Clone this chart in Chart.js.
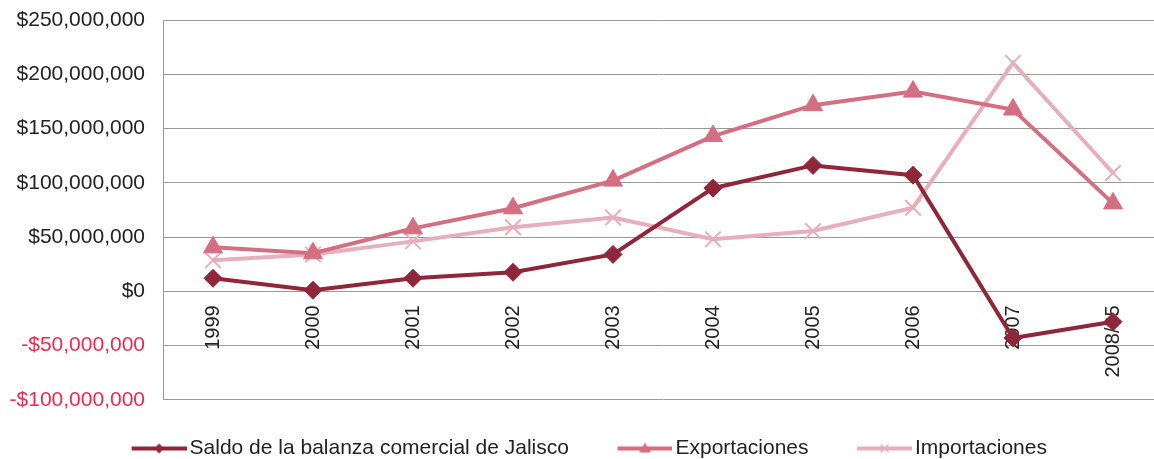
<!DOCTYPE html>
<html>
<head>
<meta charset="utf-8">
<script src="https://cdn.jsdelivr.net/npm/chart.js@4.4.1/dist/chart.umd.min.js"></script>
<style>
  html, body { margin: 0; padding: 0; background: #fff; overflow: hidden; }
  #wrap { width: 1176px; height: 470px; position: relative; }
</style>
</head>
<body>
<div id="wrap"><canvas id="balanza"></canvas></div>
<script>
// datos
var years = ["1999", "2000", "2001", "2002", "2003", "2004", "2005", "2006", "2007", "2008/05"];
var saldo = [12000000, 1000000, 12000000, 17500000, 34000000, 95000000, 116000000, 107000000, -43000000, -28000000];
var exportaciones = [40500000, 35000000, 58000000, 76500000, 102000000, 143000000, 171500000, 184000000, 167500000, 81000000];
var importaciones = [28500000, 34000000, 46000000, 59000000, 68000000, 48000000, 55500000, 77000000, 210500000, 109000000];
var yTicks = [-100000000, -50000000, 0, 50000000, 100000000, 150000000, 200000000, 250000000];

var cSaldo = "#8f2639";
var cExp = "#d46f81";
var cImp = "#e7aebb";

// icono de leyenda: linea con marcador, a la derecha de un lienzo más ancho
function legendIcon(color, marker) {
  var c = document.createElement("canvas");
  c.width = 101; c.height = 20;
  var g = c.getContext("2d");
  var x0 = 46, x1 = 101, cx = 73.5, cy = 10;
  g.strokeStyle = color; g.lineWidth = 4;
  g.beginPath(); g.moveTo(x0, cy); g.lineTo(x1, cy); g.stroke();
  g.fillStyle = color;
  if (marker === "diamond") {
    g.beginPath(); g.moveTo(cx, cy - 5); g.lineTo(cx + 5, cy); g.lineTo(cx, cy + 5); g.lineTo(cx - 5, cy); g.closePath(); g.fill();
  } else if (marker === "triangle") {
    g.beginPath(); g.moveTo(cx, cy - 6); g.lineTo(cx + 6, cy + 4); g.lineTo(cx - 6, cy + 4); g.closePath(); g.fill();
  } else {
    g.lineWidth = 1.5;
    g.beginPath(); g.moveTo(cx - 4, cy - 4); g.lineTo(cx + 4, cy + 4); g.moveTo(cx + 4, cy - 4); g.lineTo(cx - 4, cy + 4); g.stroke();
  }
  return c;
}

var icons = [legendIcon(cSaldo, "diamond"), legendIcon(cExp, "triangle"), legendIcon(cImp, "cross")];

function money(v) {
  var s = "$" + Math.abs(v).toLocaleString("en-US");
  return v < 0 ? "-" + s : s;
}

// desplaza la leyenda unos pixeles para alinearla con el original
var legendShift = {
  id: "legendShift",
  afterLayout: function (chart) {
    if (chart.legend) { chart.legend.left -= 18; chart.legend.right -= 18; }
  }
};

Chart.defaults.font.family = "'Liberation Sans', Arial, sans-serif";
Chart.defaults.font.size = 21;
Chart.defaults.color = "#222";

new Chart(document.getElementById("balanza"), {
  type: "line",
  plugins: [legendShift],
  data: {
    labels: years,
    datasets: [{
      label: "Saldo de la balanza comercial de Jalisco",
      data: saldo,
      borderColor: cSaldo,
      backgroundColor: cSaldo,
      borderWidth: 4,
      pointStyle: "rectRot",
      pointRadius: 9,
      pointBorderWidth: 1,
      tension: 0
    }, {
      label: "Exportaciones",
      data: exportaciones,
      borderColor: cExp,
      backgroundColor: cExp,
      borderWidth: 4,
      pointStyle: "triangle",
      pointRadius: 11,
      pointBorderWidth: 1,
      tension: 0
    }, {
      label: "Importaciones",
      data: importaciones,
      borderColor: cImp,
      backgroundColor: cImp,
      borderWidth: 4,
      pointStyle: "crossRot",
      pointRadius: 11,
      pointBorderWidth: 2,
      tension: 0
    }]
  },
  options: {
    responsive: true,
    maintainAspectRatio: false,
    animation: false,
    layout: { padding: { top: 20, left: 0, right: 0, bottom: 1 } },
    plugins: {
      tooltip: { enabled: false },
      legend: {
        position: "bottom",
        title: { display: true, text: "", padding: { top: 27, bottom: 0 }, font: { size: 1 } },
        labels: {
          usePointStyle: true,
          pointStyleWidth: 86,
          padding: 10,
          color: "#222",
          font: { size: 21 },
          generateLabels: function (chart) {
            return chart.data.datasets.map(function (ds, i) {
              return { text: ds.label, pointStyle: icons[i], datasetIndex: i, lineWidth: 0, strokeStyle: "transparent", fillStyle: "transparent" };
            });
          }
        }
      }
    },
    scales: {
      x: {
        position: { y: 0 },
        offset: true,
        grid: { display: false, drawTicks: false },
        border: { display: false },
        ticks: { maxRotation: 90, minRotation: 90, padding: 14, color: "#222", font: { size: 20 } }
      },
      y: {
        min: -100000000,
        max: 250000000,
        afterBuildTicks: function (scale) {
          scale.ticks = yTicks.map(function (v) { return { value: v }; });
        },
        afterFit: function (scale) { scale.width = 163; scale.paddingTop = 0; scale.paddingBottom = 0; },
        grid: { color: "#999", lineWidth: 1, drawTicks: false },
        border: { display: true, color: "#999", width: 1 },
        ticks: {
          padding: 18,
          font: { size: 21 },
          color: function (ctx) { return ctx.tick && ctx.tick.value < 0 ? "#ee2a4e" : "#222"; },
          callback: function (v) { return money(v); }
        }
      }
    }
  }
});
</script>
</body>
</html>
